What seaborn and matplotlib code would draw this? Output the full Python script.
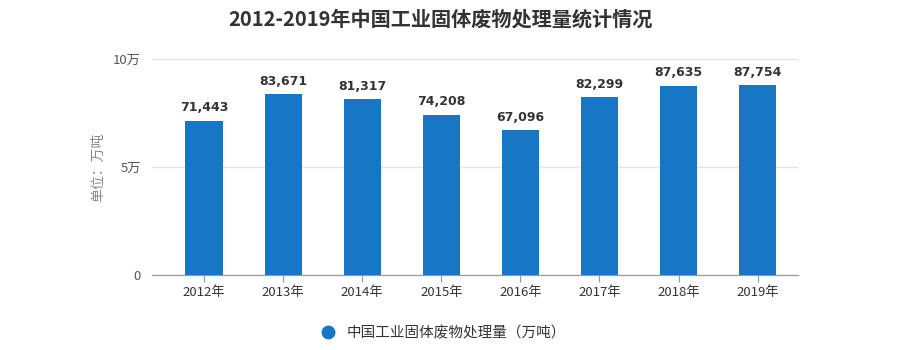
import matplotlib
matplotlib.use("Agg")
import matplotlib.pyplot as plt
import seaborn as sns
import pandas as pd
from matplotlib.lines import Line2D

years = ["2012年", "2013年", "2014年", "2015年", "2016年", "2017年", "2018年", "2019年"]
values = [71443, 83671, 81317, 74208, 67096, 82299, 87635, 87754]
yticks = [0, 50000, 100000]
ytick_labels = ["0", "5万", "10万"]
series_name = "中国工业固体废物处理量（万吨）"
title = "2012-2019年中国工业固体废物处理量统计情况"
ylabel = "单位：万吨"

sns.set_theme(style="white")
plt.rcParams["font.family"] = ["Noto Sans CJK SC", "DejaVu Sans"]

df = pd.DataFrame({"year": years, "value": values})
color = "#1777c4"

fig = plt.figure(figsize=(9.22, 3.5), dpi=100)
ax = fig.add_axes([0.1649, 0.2143, 0.7006, 0.6171])
sns.barplot(data=df, x="year", y="value", color=color, width=0.47,
            saturation=1, ax=ax, zorder=3, linewidth=0)

ax.set_ylim(0, 100000)
ax.set_xlim(-0.657, 7.51)
ax.set_yticks(yticks)
ax.set_yticklabels(ytick_labels)
ax.yaxis.grid(True, color="#e3e3e3", linewidth=0.9, zorder=0)
for s in ["top", "right", "left"]:
    ax.spines[s].set_visible(False)
ax.spines["bottom"].set_color("#9a9a9a")
ax.spines["bottom"].set_linewidth(0.9)
ax.tick_params(axis="x", length=5, color="#9a9a9a", width=0.9, labelsize=9.5,
               labelcolor="#333333", pad=3, direction="out", bottom=True)
ax.tick_params(axis="y", length=0, labelsize=9.5, labelcolor="#555555", pad=8)
ax.set_xlabel("")
ax.set_ylabel(ylabel, color="#888888", fontsize=10, labelpad=6)

for i, v in enumerate(values):
    ax.text(i, v + 3000, f"{v:,}", ha="center", va="bottom", fontsize=9,
            fontweight="bold", color="#333333", family=["DejaVu Sans"])

fig.text(0.478, 0.945, title, ha="center", va="center", fontsize=14.5,
         fontweight="bold", color="#333333")

handle = Line2D([], [], marker="o", linestyle="none", markersize=9,
                markerfacecolor=color, markeredgecolor=color)
fig.legend([handle], [series_name], loc="center", bbox_to_anchor=(0.477, 0.049),
           frameon=False, prop={"size": 10.5, "weight": "medium"},
           handletextpad=0.3, labelcolor="#333333")

fig.savefig("out.png", dpi=100)
